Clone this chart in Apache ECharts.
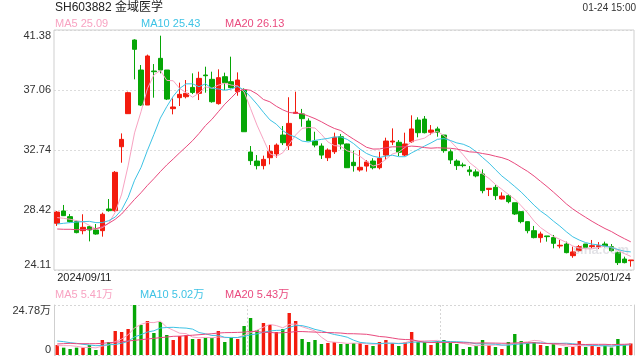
<!DOCTYPE html>
<html><head><meta charset="utf-8">
<script src="https://cdn.jsdelivr.net/npm/echarts@6/dist/echarts.min.js"></script>
<style>html,body{margin:0;padding:0;background:#fff}#c{width:640px;height:360px}</style>
</head><body><div id="c"></div>
<script>
const dates = ['2024/09/11','2024/09/12','2024/09/13','2024/09/18','2024/09/19','2024/09/20','2024/09/23','2024/09/24','2024/09/25','2024/09/26','2024/09/27','2024/09/30',
'2024/10/08','2024/10/09','2024/10/10','2024/10/11','2024/10/14','2024/10/15','2024/10/16','2024/10/17','2024/10/18','2024/10/21','2024/10/22','2024/10/23','2024/10/24','2024/10/25','2024/10/28','2024/10/29','2024/10/30','2024/10/31',
'2024/11/01','2024/11/04','2024/11/05','2024/11/06','2024/11/07','2024/11/08','2024/11/11','2024/11/12','2024/11/13','2024/11/14','2024/11/15','2024/11/18','2024/11/19','2024/11/20','2024/11/21','2024/11/22','2024/11/25','2024/11/26','2024/11/27','2024/11/28','2024/11/29',
'2024/12/02','2024/12/03','2024/12/04','2024/12/05','2024/12/06','2024/12/09','2024/12/10','2024/12/11','2024/12/12','2024/12/13','2024/12/16','2024/12/17','2024/12/18','2024/12/19','2024/12/20','2024/12/23','2024/12/24','2024/12/25','2024/12/26','2024/12/27','2024/12/30','2024/12/31',
'2025/01/02','2025/01/03','2025/01/06','2025/01/07','2025/01/08','2025/01/09','2025/01/10','2025/01/13','2025/01/14','2025/01/15','2025/01/16','2025/01/17','2025/01/20','2025/01/21','2025/01/22','2025/01/23','2025/01/24'];

const opens = [27.47,28.36,27.95,27.59,26.94,27.23,26.99,26.94,28.50,28.38,
32.98,35.36,40.66,38.50,35.98,38.43,39.34,38.50,35.72,36.51,
36.58,37.25,36.82,38.14,37.83,36.08,38.02,37.66,36.94,37.06,
32.60,31.95,31.62,32.19,32.46,33.82,33.06,35.38,35.34,34.83,
33.39,33.03,32.19,32.62,33.70,33.18,31.86,31.31,31.59,31.95,
31.47,32.38,33.32,33.30,32.38,33.34,34.90,34.97,34.02,34.26,
33.82,32.62,31.95,31.67,31.31,31.17,31.02,29.91,30.06,29.22,
29.46,28.95,28.31,27.59,26.94,26.44,26.56,26.44,25.84,25.98,
25.14,25.50,25.98,25.79,25.79,25.98,25.79,25.36,24.90,24.78];
const closes = [28.28,28.02,27.59,26.80,27.18,26.99,26.70,28.12,28.38,31.14,
33.51,36.87,39.99,35.98,39.51,38.38,38.50,36.41,35.84,36.75,
36.82,36.89,37.90,38.09,36.22,37.95,37.59,37.23,37.78,34.06,
31.98,31.62,32.07,32.65,33.10,33.27,34.66,35.46,35.00,33.42,
33.10,32.38,32.74,33.66,33.18,31.47,31.62,31.50,31.88,31.47,
32.15,33.39,33.39,32.58,33.18,34.26,33.99,33.99,34.18,34.02,
32.70,32.03,31.62,31.62,31.19,30.88,29.82,29.99,29.46,29.43,
29.03,28.14,27.59,26.94,26.44,26.70,26.51,26.03,25.89,25.36,
25.41,25.79,25.74,25.86,25.86,25.84,25.50,24.64,24.64,24.83];
const lows = [27.28,28.00,27.52,26.75,26.68,26.17,26.65,26.51,28.31,28.31,
31.83,35.36,37.83,35.91,35.98,36.51,38.26,36.34,35.31,35.91,
36.46,36.77,36.34,36.87,36.15,36.01,37.06,37.18,36.65,34.06,
31.67,31.35,31.35,31.71,32.19,33.10,32.74,35.34,34.42,33.39,
32.94,32.10,31.95,32.46,32.79,31.45,31.19,31.19,31.19,31.35,
31.35,32.02,33.10,32.31,32.31,33.27,33.66,33.94,33.82,33.70,
32.55,31.74,31.31,31.50,30.90,30.78,29.63,29.43,29.15,29.19,
28.91,28.07,27.47,26.75,26.39,26.08,26.15,25.67,25.67,25.31,
24.99,25.43,25.67,25.67,25.62,25.74,25.43,24.47,24.59,24.35];
const highs = [28.36,28.79,28.14,27.66,28.12,27.28,27.42,28.24,29.22,31.23,
33.94,36.94,40.71,38.86,39.61,38.93,40.97,38.50,36.46,37.59,
37.78,38.26,38.38,38.74,38.38,38.55,38.31,39.46,38.33,37.18,
33.03,32.38,32.34,33.10,33.22,34.47,36.54,36.94,35.70,35.02,
34.06,33.22,32.86,33.99,33.90,33.20,32.70,32.74,32.02,32.15,
32.62,33.63,34.30,33.46,33.99,35.24,35.10,35.19,34.54,34.42,
33.82,32.79,32.07,31.83,31.59,31.35,31.35,29.99,30.23,29.70,
29.58,28.95,28.31,27.59,27.28,26.87,26.56,26.63,26.27,26.15,
25.79,25.91,25.98,26.27,26.12,26.15,25.98,25.43,25.07,24.83];

const volumes = [4.96,3.63,2.97,3.63,3.63,4.96,2.48,7.43,6.44,11.89,
11.40,12.89,24.78,14.87,16.85,10.90,16.35,9.91,7.43,9.42,
9.91,7.93,7.93,8.43,8.43,11.89,6.44,8.43,7.93,14.37,
18.34,12.39,15.86,14.87,11.40,12.89,20.82,16.85,7.93,6.44,
7.43,5.45,5.95,6.44,5.45,5.45,5.95,5.95,4.96,4.46,
6.44,7.43,5.95,4.46,6.44,11.40,6.44,6.44,4.96,6.94,
7.43,5.95,5.45,2.97,3.96,4.46,7.43,4.96,3.96,2.97,
6.44,10.41,6.94,5.95,6.44,4.96,4.46,5.45,3.47,3.96,
3.96,6.94,3.96,4.46,3.96,4.80,3.70,7.93,4.96,5.70];

// moving-average values before enough bars exist
const ma5Lead = [27.88,27.83,27.76,27.66];
const ma10Lead = [27.42,27.47,27.52,27.56,27.59,27.61,27.52,27.52,27.66];
const ma20Lead = [27.06,27.04,27.04,27.01,27.01,27.04,27.08,27.23,27.47,27.76,28.14,28.67,29.19,29.67,30.20,30.68,31.19,31.67,32.10];
const vma5Lead = [4.63,4.63,4.63,4.30];
const vma10Lead = [6.94,6.61,6.11,5.78,5.29,4.96,4.63,4.79,5.12];
const vma20Lead = [5.45,5.62,5.78,5.62,5.62,5.62,5.62,5.78,6.11,6.28,6.61,6.94,7.27,7.60,7.93,8.26,8.59,8.92,9.25];

const priceTicks = ['24.11','28.42','32.74','37.06','41.38'];
const volTicks = ['0','24.78万'];
const titleText = 'SH603882 金域医学';
const timeText = '01-24 15:00';
const mainLegend = ['MA5 25.09','MA10 25.43','MA20 26.13'];
const volLegend = ['MA5 5.41万','MA10 5.02万','MA20 5.43万'];

const RED = '#f31b0e', GREEN = '#06a606';
const C5 = '#f8a3c2', C10 = '#3ec3e5', C20 = '#e94a7e';
const FONT = '"Liberation Sans", Arial, "Noto Sans CJK SC", sans-serif';

function movingAverage(src, n, lead) {
  return src.map((_, i) => {
    if (i < n - 1) return lead[i];
    let s = 0;
    for (let k = i - n + 1; k <= i; k++) s += src[k];
    return +(s / n).toFixed(3);
  });
}

const pMin = +priceTicks[0], pMax = +priceTicks[priceTicks.length - 1];
const pStep = (pMax - pMin) / (priceTicks.length - 1);
const vMax = parseFloat(volTicks[1]);

const kData = dates.map((d, i) => [opens[i], closes[i], lows[i], highs[i]]);
const volData = volumes.map((v, i) => ({ value: v, itemStyle: { color: closes[i] >= opens[i] ? RED : GREEN } }));

function maLine(data, color, xi, yi) {
  return { type: 'line', data, xAxisIndex: xi, yAxisIndex: yi, symbol: 'none', silent: true,
    lineStyle: { width: 1, color }, itemStyle: { color }, animation: false, z: 3 };
}

const chart = echarts.init(document.getElementById('c'), null, { renderer: 'canvas' });
const txt = (x, y, text, fill, size, align) => ({ type: 'text', x, y,
  style: { text, fill, fontSize: size, fontFamily: FONT, align: align || 'left', verticalAlign: 'middle' } });

chart.setOption({
  animation: false,
  backgroundColor: '#fff',
  textStyle: { fontFamily: FONT },
  grid: [
    { left: 54, right: 6, top: 30, height: 240, show: true, borderColor: '#cfcfcf', borderWidth: 1, z: 2 },
    { left: 54, right: 6, top: 305, height: 50, show: false }
  ],
  xAxis: [
    { type: 'category', gridIndex: 0, data: dates, boundaryGap: true,
      axisLine: { show: false }, axisTick: { show: false }, splitLine: { show: false },
      axisLabel: { interval: (i) => i === 0 || i === dates.length - 1, color: '#222', fontSize: 11, margin: 2,
        alignMinLabel: 'left', alignMaxLabel: 'right', showMinLabel: true, showMaxLabel: true, hideOverlap: false } },
    { type: 'category', gridIndex: 1, data: dates, boundaryGap: true,
      axisLine: { show: false }, axisTick: { show: false }, axisLabel: { show: false },
      splitLine: { show: true, interval: (i) => i === 30 || i === 60, lineStyle: { color: '#d6d6d6', type: [2, 2] } } }
  ],
  yAxis: [
    { type: 'value', gridIndex: 0, min: pMin, max: pMax, interval: pStep, scale: true,
      axisLine: { show: false }, axisTick: { show: false },
      splitLine: { show: true, lineStyle: { color: '#dcdcdc', type: [2, 2] } },
      axisLabel: { color: '#333', fontSize: 11, margin: 3,
        verticalAlignMinLabel: 'bottom', verticalAlignMaxLabel: 'top',
        formatter: (v) => priceTicks[Math.round((v - pMin) / pStep)] } },
    { type: 'value', gridIndex: 1, min: 0, max: vMax, interval: vMax,
      axisLine: { show: true, lineStyle: { color: '#cfcfcf' } }, axisTick: { show: false },
      splitLine: { show: true, lineStyle: { color: '#d6d6d6', type: [2, 2] } },
      axisLabel: { color: '#333', fontSize: 11, margin: 3,
        verticalAlignMinLabel: 'bottom', verticalAlignMaxLabel: 'top',
        formatter: (v) => volTicks[v > 0 ? 1 : 0] } },
    { type: 'value', gridIndex: 1, position: 'right', min: 0, max: vMax, interval: vMax,
      axisLine: { show: true, lineStyle: { color: '#cfcfcf' } }, axisTick: { show: false },
      splitLine: { show: false }, axisLabel: { show: false } }
  ],
  series: [
    { type: 'candlestick', xAxisIndex: 0, yAxisIndex: 0, data: kData, barWidth: 5,
      itemStyle: { color: RED, color0: GREEN, borderColor: RED, borderColor0: GREEN, borderWidth: 1 } },
    maLine(movingAverage(closes, 5, ma5Lead), C5, 0, 0),
    maLine(movingAverage(closes, 10, ma10Lead), C10, 0, 0),
    maLine(movingAverage(closes, 20, ma20Lead), C20, 0, 0),
    { type: 'bar', xAxisIndex: 1, yAxisIndex: 1, data: volData, barWidth: 3.4 },
    maLine(movingAverage(volumes, 5, vma5Lead), C5, 1, 1),
    maLine(movingAverage(volumes, 10, vma10Lead), C10, 1, 1),
    maLine(movingAverage(volumes, 20, vma20Lead), C20, 1, 1)
  ],
  graphic: [
    txt(55, 8, titleText, '#222', 12),
    txt(636, 8, timeText, '#333', 10, 'right'),
    txt(55, 24, mainLegend[0], C5, 11),
    txt(141, 24, mainLegend[1], C10, 11),
    txt(225, 24, mainLegend[2], C20, 11),
    txt(55, 295, volLegend[0], C5, 11),
    txt(140, 295, volLegend[1], C10, 11),
    txt(225, 295, volLegend[2], C20, 11),
    { type: 'text', x: 601, y: 250, z: 10,
      style: { text: 'sina.com', fill: 'rgba(190,190,200,0.45)', fontSize: 13, fontWeight: 'bold', fontFamily: FONT, align: 'center', verticalAlign: 'middle' } }
  ]
});
</script></body></html>
